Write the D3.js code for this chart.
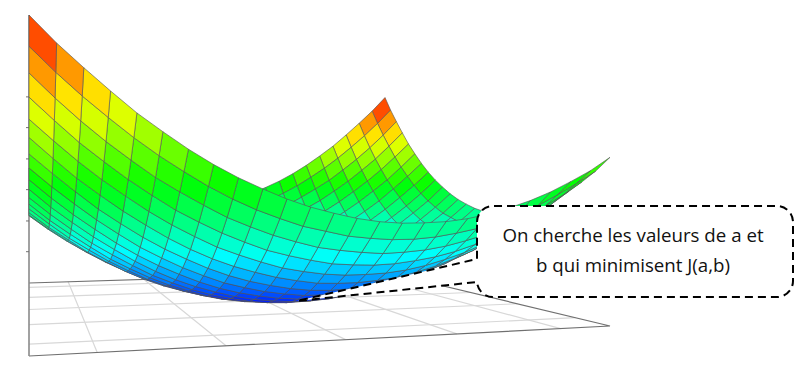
<!DOCTYPE html>
<html><head><meta charset="utf-8">
<script src="https://cdn.jsdelivr.net/npm/d3@7"></script>
<style>html,body{margin:0;padding:0;background:#fff}svg{display:block}.soft{filter:blur(0.35px)}</style>
</head><body><svg id="c" width="809" height="391"></svg>
<script>
// J(a,b), one row per grid step of a, one value per grid step of b
const J = [
[341,314,290,267,245,226,208,192,178,166,155,146,139,133,129,127,127,128,131,136,143,151,161,173,186,202],
[314,288,264,242,221,202,185,169,155,143,133,124,118,112,109,107,107,109,113,118,125,134,144,157,171,186],
[290,264,240,218,198,179,163,148,134,123,113,105,98,94,91,89,90,92,96,102,109,119,130,142,157,173],
[267,242,218,197,177,159,142,128,115,104,94,87,81,76,74,73,74,77,81,87,95,105,116,130,144,161],
[245,221,198,177,158,140,124,110,97,87,78,70,65,61,59,59,60,63,68,75,83,93,105,119,134,151],
[226,202,179,159,140,123,107,93,81,71,63,56,51,47,46,46,48,51,57,64,73,83,95,109,125,143],
[208,185,163,142,124,107,92,79,67,57,49,43,38,35,34,35,37,41,47,55,64,75,87,102,118,136],
[192,169,148,128,110,93,79,66,55,45,38,32,28,25,25,26,28,33,39,47,57,68,81,96,113,131],
[178,155,134,115,97,81,67,55,44,35,28,23,19,17,17,18,21,26,33,41,51,63,77,92,109,128],
[166,143,123,104,87,71,57,45,35,27,20,15,12,10,10,12,16,21,28,37,48,60,74,90,107,127],
[155,133,113,94,78,63,49,38,28,20,14,9,6,5,6,8,12,18,26,35,46,59,73,89,107,127],
[146,124,105,87,70,56,43,32,23,15,9,5,3,2,3,6,10,17,25,34,46,59,74,91,109,129],
[139,118,98,81,65,51,38,28,19,12,6,3,1,0,2,5,10,17,25,35,47,61,76,94,112,133],
[133,112,94,76,61,47,35,25,17,10,5,2,0,1,3,6,12,19,28,38,51,65,81,98,118,139],
[129,109,91,74,59,46,34,25,17,10,6,3,2,3,5,9,15,23,32,43,56,70,87,105,124,146],
[127,107,89,73,59,46,35,26,18,12,8,6,5,6,9,14,20,28,38,49,63,78,94,113,133,155],
[127,107,90,74,60,48,37,28,21,16,12,10,10,12,15,20,27,35,45,57,71,87,104,123,143,166],
[128,109,92,77,63,51,41,33,26,21,18,17,17,19,23,28,35,44,55,67,81,97,115,134,155,178],
[131,113,96,81,68,57,47,39,33,28,26,25,25,28,32,38,45,55,66,79,93,110,128,148,169,192],
[136,118,102,87,75,64,55,47,41,37,35,34,35,38,43,49,57,67,79,92,107,124,142,163,185,208],
[143,125,109,95,83,73,64,57,51,48,46,46,47,51,56,63,71,81,93,107,123,140,159,179,202,226],
[151,134,119,105,93,83,75,68,63,60,59,59,61,65,70,78,87,97,110,124,140,158,177,198,221,245],
[161,144,130,116,105,95,87,81,77,74,73,74,76,81,87,94,104,115,128,142,159,177,197,218,242,267],
[173,157,142,130,119,109,102,96,92,90,89,91,94,98,105,113,123,134,148,163,179,198,218,240,264,290],
[186,171,157,144,134,125,118,113,109,107,107,109,112,118,124,133,143,155,169,185,202,221,242,264,288,314],
[202,186,173,161,151,143,136,131,128,127,127,129,133,139,146,155,166,178,192,208,226,245,267,290,314,341]
];
const floorTicks = [0.1,0.3,0.5,0.7,0.9];
const jTicks = [55,109,164,218,273,327];
const colourStops = [0,85,170,255,340];
const colourRange = ["#0000ff","#00ffff","#00ff00","#ffff00","#ff0000"];
const calloutLines = ["On cherche les valeurs de a et","b qui minimisent J(a,b)"];

const svg = d3.select("#c");
const colour = d3.scaleLinear().domain(colourStops).range(colourRange).interpolate(d3.interpolateRgb);
const gridA = d3.scaleLinear().domain([0,J.length-1]).range([0,1]);
const gridB = d3.scaleLinear().domain([0,J[0].length-1]).range([0,1]);
const height = d3.scaleLinear().domain([0,340]).range([0,340]);

// floor corners on screen, in order (0,0) (1,0) (1,1) (0,1)
const Q = [[29,356],[610,326],[385,272],[29,283]];
const dx1=Q[1][0]-Q[2][0], dx2=Q[3][0]-Q[2][0], sx=Q[0][0]-Q[1][0]+Q[2][0]-Q[3][0];
const dy1=Q[1][1]-Q[2][1], dy2=Q[3][1]-Q[2][1], sy=Q[0][1]-Q[1][1]+Q[2][1]-Q[3][1];
const den=dx1*dy2-dx2*dy1;
const g=(sx*dy2-dx2*sy)/den, h=(dx1*sy-sx*dy1)/den;
const depth=(u,v)=>1+g*u+h*v;
function project(u,v,z){
  const w=depth(u,v);
  const X=(Q[0][0]+(Q[1][0]-Q[0][0]+g*Q[1][0])*u+(Q[3][0]-Q[0][0]+h*Q[3][0])*v)/w;
  const Y=(Q[0][1]+(Q[1][1]-Q[0][1]+g*Q[1][1])*u+(Q[3][1]-Q[0][1]+h*Q[3][1])*v-height(z))/w;
  return [X,Y];
}
const line=d3.line();
const plot=svg.append("g").attr("class","soft");

// floor grid
const fg=plot.append("g").attr("fill","none").attr("stroke","#d8d8d8").attr("stroke-width",1.2);
floorTicks.forEach(t=>{
  fg.append("path").attr("d",line([project(t,0,0),project(t,1,0)]));
  fg.append("path").attr("d",line([project(0,t,0),project(1,t,0)]));
});
// floor outline and wall axis
const ax=plot.append("g").attr("fill","none").attr("stroke","#707070").attr("stroke-width",1.2);
ax.append("path").attr("d",line([project(0,1,0),project(1,1,0),project(1,0,0),project(0,0,0)]));
ax.append("path").attr("stroke","#8a8a8a").attr("stroke-width",1.6).attr("d",line([project(0,0,0),project(0,0,J[0][0])]));
jTicks.forEach(t=>{
  const p=project(0,1,t);
  ax.append("path").attr("stroke-width",1).attr("d",line([[p[0]-3,p[1]],p]));
});

// surface cells, far ones first
const cells=[];
for(let i=0;i<J.length-1;i++)for(let j=0;j<J[0].length-1;j++){
  const u0=gridA(i),u1=gridA(i+1),v0=gridB(j),v1=gridB(j+1);
  cells.push({
    poly:[project(u0,v0,J[i][j]),project(u1,v0,J[i+1][j]),project(u1,v1,J[i+1][j+1]),project(u0,v1,J[i][j+1])],
    val:(J[i][j]+J[i+1][j]+J[i+1][j+1]+J[i][j+1])/4,
    d:depth((u0+u1)/2,(v0+v1)/2)
  });
}
cells.sort((a,b)=>d3.descending(a.d,b.d));
plot.append("g").selectAll("path").data(cells).join("path")
  .attr("d",d=>line(d.poly)+"Z")
  .attr("fill",d=>colour(d.val))
  .attr("stroke","#555").attr("stroke-opacity",0.62).attr("stroke-width",1).attr("stroke-linejoin","round");

// callout
svg.append("path")
  .attr("d","M477,222A16,16 0 0 1 493,206H777A16,16 0 0 1 793,222V281A16,16 0 0 1 777,297H493A16,16 0 0 1 477,282L297,301L477,259Z")
  .attr("fill","#fff").attr("stroke","#000").attr("stroke-width",2).attr("stroke-dasharray","8 5");
svg.append("g").attr("font-family","'Open Sans',sans-serif").attr("font-size",18.7).attr("fill","#111").attr("text-anchor","middle")
  .selectAll("text").data(calloutLines).join("text")
  .attr("x",633).attr("y",(d,i)=>242+i*29.5).text(d=>d);
</script></body></html>
